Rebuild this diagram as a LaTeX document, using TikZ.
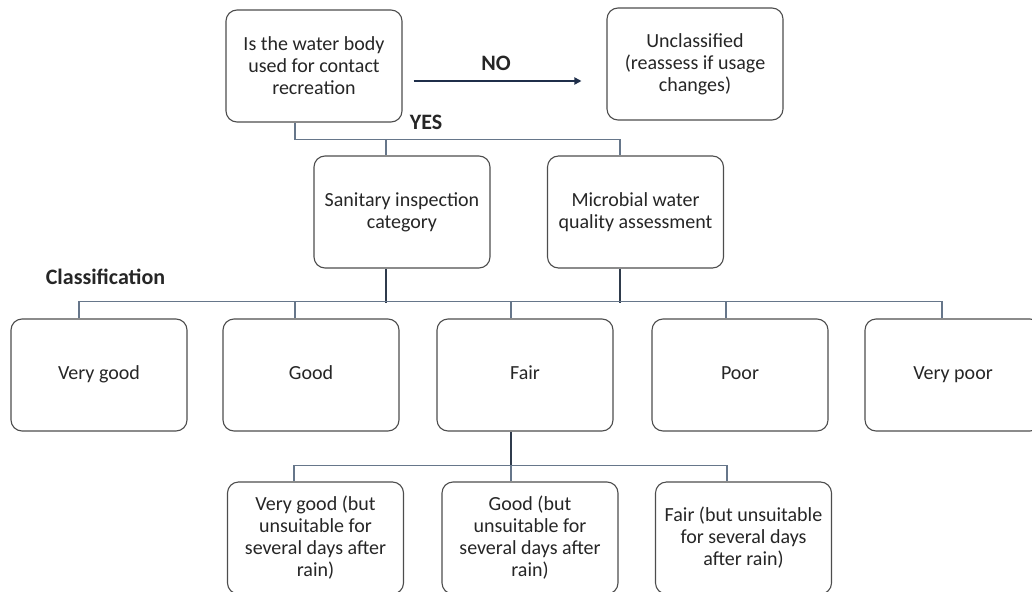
\documentclass[tikz,border=0pt]{standalone}
\usepackage{fontspec}
\setmainfont{Carlito}
\usetikzlibrary{calc,arrows.meta}
\definecolor{boxline}{HTML}{4D4D4D}
\definecolor{stem}{HTML}{2F3B4C}
\definecolor{bus}{HTML}{66768A}
\definecolor{arrowc}{HTML}{1F2E4A}
\begin{document}
\begin{tikzpicture}[x=1pt,y=-1pt,
  box/.style={draw=boxline, line width=1.1pt, rounded corners=11pt,
    minimum width=176pt, minimum height=112pt, align=center,
    font=\fontsize{20}{22}\selectfont, fill=white, inner sep=0pt, text=black!85},
  stemline/.style={draw=stem, line width=1.5pt},
  busline/.style={draw=bus, line width=1.1pt},
  lbl/.style={font=\fontsize{22}{24}\selectfont\bfseries, text=black!85}]
\useasboundingbox (0,0) rectangle (1032,591);
\clip (0,0) rectangle (1032,591);

% decision and outcome boxes
\node[box] (q)   at (314,66)   {Is the water body\\used for contact\\recreation};
\node[box] (unc) at (695,64)   {Unclassified\\(reassess if usage\\changes)};
\node[box] (san) at (402,212)  {Sanitary inspection\\category};
\node[box] (mic) at (635.5,212){Microbial water\\quality assessment};

% classification row (struts keep one baseline across the row)
\node[box] (c1) at (99,375)  {\strut Very good};
\node[box] (c2) at (311,375) {\strut Good};
\node[box] (c3) at (525,375) {\strut Fair};
\node[box] (c4) at (740,375) {\strut Poor};
\node[box] (c5) at (953,375) {\strut Very poor};

% rain-affected sub-classes
\node[box] (f1) at (315.5,538) {Very good (but\\unsuitable for\\several days after\\rain)};
\node[box] (f2) at (530,538)   {Good (but\\unsuitable for\\several days after\\rain)};
\node[box] (f3) at (743.5,538) {Fair (but unsuitable\\for several days\\after rain)};

% labels
\node[lbl] (no)  at (496,63)    {NO};
\node[lbl] (yes) at (426,122)   {YES};
\node[lbl] (cls) at (105.5,277) {Classification};

% NO arrow
\draw[arrowc, line width=2pt, -{Triangle[length=7pt,width=7pt]}]
  ($(q.east)+(11,15)$) -- ($(unc.west)+(-25,17)$);

% YES branch to the two assessments
\draw[busline] ($(q.south)+(-19,0)$) |- ($(mic.north)+(-15.5,-16)$) -- ($(mic.north)+(-15.5,0)$);
\draw[busline] ($(san.north)+(-16,-16)$) -- ($(san.north)+(-16,0)$);

% assessments feed the classification bus
\draw[stemline] ($(san.south)+(-16,0)$) -- ++(0,34);
\draw[stemline] ($(mic.south)+(-15.5,0)$) -- ++(0,34);
\draw[busline] ($(c1.north)+(-20,0)$) |- ($(c5.north)+(-11,-17)$) -- ($(c5.north)+(-11,0)$);
\foreach \n/\d in {c2/-16,c3/-14,c4/-14}
  \draw[busline] ($(\n.north)+(\d,0)$) -- ++(0,-17);

% Fair splits into rain-affected classes
\draw[stemline] ($(c3.south)+(-14,0)$) -- ++(0,35);
\draw[busline] ($(f1.north)+(-21.5,0)$) |- ($(f3.north)+(-16.5,-16)$) -- ($(f3.north)+(-16.5,0)$);
\draw[busline] ($(f2.north)+(-19,0)$) -- ++(0,-16);
\end{tikzpicture}
\end{document}
